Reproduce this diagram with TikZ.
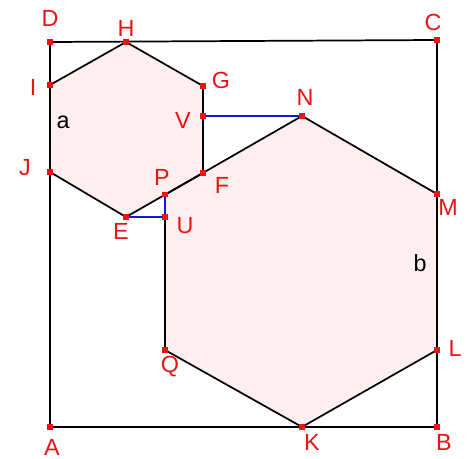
\documentclass[tikz,border=0pt]{standalone}
\usepackage{fontspec}
\setmainfont{Liberation Sans}
\definecolor{ptred}{RGB}{235,20,20}
\definecolor{hexfill}{RGB}{253,238,240}
\definecolor{segblue}{RGB}{20,20,230}
\begin{document}
\begin{tikzpicture}[x=0.75pt,y=-0.75pt,
  edge/.style={draw=black,line width=1.3pt,line join=round},
  blueseg/.style={draw=segblue,line width=1.3pt},
  pt/.style={fill=ptred,minimum size=3.8pt,inner sep=0pt,draw=none,rectangle},
  lab/.style={text=ptred,font=\fontsize{17.5}{18}\selectfont,inner sep=0pt},
  blab/.style={text=black,font=\fontsize{17.5}{18}\selectfont,inner sep=0pt}]
\useasboundingbox (0,0) rectangle (468,459);
% points
\coordinate (A) at (50,427);
\coordinate (B) at (437,427);
\coordinate (C) at (437,40);
\coordinate (D) at (50,42);
\coordinate (H) at (126,42);
\coordinate (G) at (203,86);
\coordinate (F) at (203,173);
\coordinate (E) at (126,217);
\coordinate (J) at (50,172);
\coordinate (I) at (50,85);
\coordinate (V) at (203,116);
\coordinate (N) at (302,116);
\coordinate (M) at (437,194);
\coordinate (L) at (437,350);
\coordinate (K) at (302,427);
\coordinate (Q) at (165,350);
\coordinate (P) at (165,194.7);
\coordinate (U) at (165,217);
% fills
\fill[hexfill] (H) -- (G) -- (F) -- (E) -- (J) -- (I) -- cycle;
\fill[hexfill] (N) -- (M) -- (L) -- (K) -- (Q) -- (P) -- cycle;
% square
\draw[edge] (A) -- (B) -- (C) -- (D) -- cycle;
% hexagons
\draw[edge] (H) -- (G) -- (F) -- (E) -- (J) -- (I) -- cycle;
\draw[edge] (N) -- (M) -- (L) -- (K) -- (Q) -- (P) -- cycle;
% blue segments
\draw[blueseg] (V) -- (N);
\draw[blueseg] (P) -- (U) -- (E);
% point markers
\foreach \p in {A,B,C,D,H,G,F,E,J,I,V,N,M,L,K,Q,P,U}
  \node[pt] (m\p) at (\p) {};
% labels
\node[lab] (tD) at (50,18) {D};
\node[lab] (tH) at (126,28) {H};
\node[lab] (tC) at (433,22) {C};
\node[lab] (tI) at (33,87) {I};
\node[lab] (tG) at (221,80) {G};
\node[blab] (ta) at (63,122) {a};
\node[lab] (tV) at (183,120) {V};
\node[lab] (tN) at (305,97) {N};
\node[lab] (tJ) at (25,168) {J};
\node[lab] (tP) at (162,177) {P};
\node[lab] (tF) at (222,185) {F};
\node[lab] (tE) at (121,231) {E};
\node[lab] (tU) at (185,226) {U};
\node[lab] (tM) at (448,207) {M};
\node[blab] (tb) at (420,263) {b};
\node[lab] (tQ) at (170,367) {Q};
\node[lab] (tL) at (455,348) {L};
\node[lab] (tA) at (52,447) {A};
\node[lab] (tK) at (312,442) {K};
\node[lab] (tB) at (444,442) {B};
\end{tikzpicture}
\end{document}
